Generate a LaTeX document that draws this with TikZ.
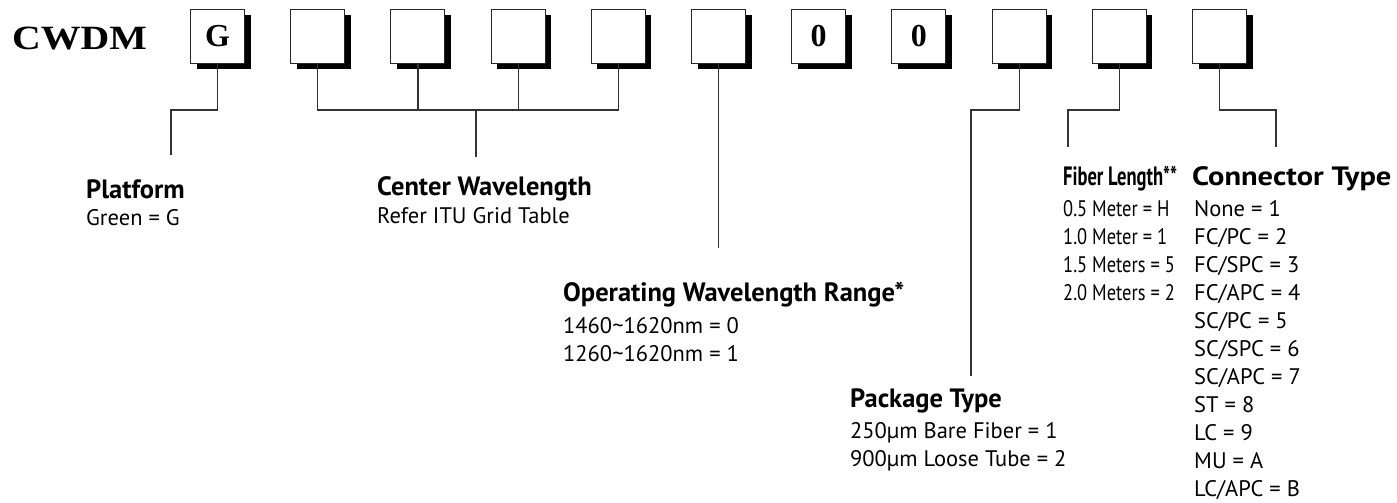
\documentclass[tikz,border=0pt]{standalone}
\usepackage{fontspec}
\setmainfont{PT Sans}
\newfontfamily\codefont{Liberation Serif}
\usetikzlibrary{positioning,shadows}

\begin{document}
\begin{tikzpicture}[x=1pt, y=-1pt,
  codebox/.style={draw=black!85, line width=1pt, fill=white, minimum size=54pt,
    inner sep=0pt, anchor=north west, font=\codefont\bfseries\fontsize{32}{32}\selectfont,
    drop shadow={shadow xshift=6pt, shadow yshift=-6pt, fill=black, opacity=1}},
  head/.style={anchor=base west, inner sep=0pt, font=\fontsize{26.5}{28}\selectfont\bfseries},
  item/.style={anchor=base west, inner sep=0pt, font=\fontsize{22.5}{28}\selectfont},
  link/.style={draw=black!80, line width=1.2pt}]
\useasboundingbox (0,0) rectangle (1397,503);

\node[anchor=base west, inner sep=0pt, font=\codefont\bfseries\fontsize{34}{34}\selectfont]
  (cwdm) at (12,50) {\scalebox{1.17}[1]{CWDM}};

% code boxes
\foreach \i/\ch in {1/G,2/,3/,4/,5/,6/,7/0,8/0,9/,10/,11/}
  \node[codebox] (b\i) at ({190+100.2*(\i-1)},9) {\ch};

% ends of the connectors
\coordinate (pfEnd) at (171,155);
\coordinate (cwBar) at (476,109);
\coordinate (cwEnd) at (476,157);
\coordinate (owEnd) at (721,248);
\coordinate (ptEnd) at (971,376);
\coordinate (flEnd) at (1068,147);
\coordinate (ctEnd) at (1276,147);

\draw[link] (b1.south) -- ++(0,46) -| (pfEnd);
\draw[link] (b2.south) -- ++(0,46) -| (b5.south);
\draw[link] (b3.south) -- ++(0,46);
\draw[link] (b4.south) -- ++(0,46);
\draw[link] (cwBar) -- (cwEnd);
\draw[link] (b6.south) -- (b6.south |- owEnd);
\draw[link] (b9.south) -- ++(0,46) -| (ptEnd);
\draw[link] (b10.south) -- ++(0,46) -| (flEnd);
\draw[link] (b11.south) -- ++(0,46) -| (ctEnd);

% labels
\node[head] (pfHead) at (86,198) {Platform};
\node[item] (pfItem) at (86,225) {Green = G};

\node[head] (cwHead) at (377,195) {Center Wavelength};
\node[item] (cwItem) at (377,223) {Refer ITU Grid Table};

\node[head] (owHead) at (563,301) {Operating Wavelength Range*};
\node[item] (ow1) at (563,333) {1460\textasciitilde 1620nm = 0};
\node[item] (ow2) at (563,361) {1260\textasciitilde 1620nm = 1};

\node[head] (ptHead) at (850,407) {Package Type};
\node[item] (pt1) at (850,438) {250µm Bare Fiber = 1};
\node[item] (pt2) at (850,466) {900µm Loose Tube = 2};

\node[head] (flHead) at (1063,185) {\scalebox{0.7}[1]{Fiber Length**}};
\foreach \t [count=\k] in {0.5 Meter = H, 1.0 Meter = 1, 1.5 Meters = 5, 2.0 Meters = 2}
  \node[item] (fl\k) at (1063,{216+28*(\k-1)}) {\scalebox{0.82}[1]{\t}};

\node[head] (ctHead) at (1192,185) {\scalebox{1.15}[1]{Connector Type}};
\foreach \t [count=\k] in {None = 1, FC/PC = 2, FC/SPC = 3, FC/APC = 4, SC/PC = 5,
    SC/SPC = 6, SC/APC = 7, ST = 8, LC = 9, MU = A, LC/APC = B}
  \node[item] (ct\k) at (1194,{216+28*(\k-1)}) {\t};
\end{tikzpicture}
\end{document}
